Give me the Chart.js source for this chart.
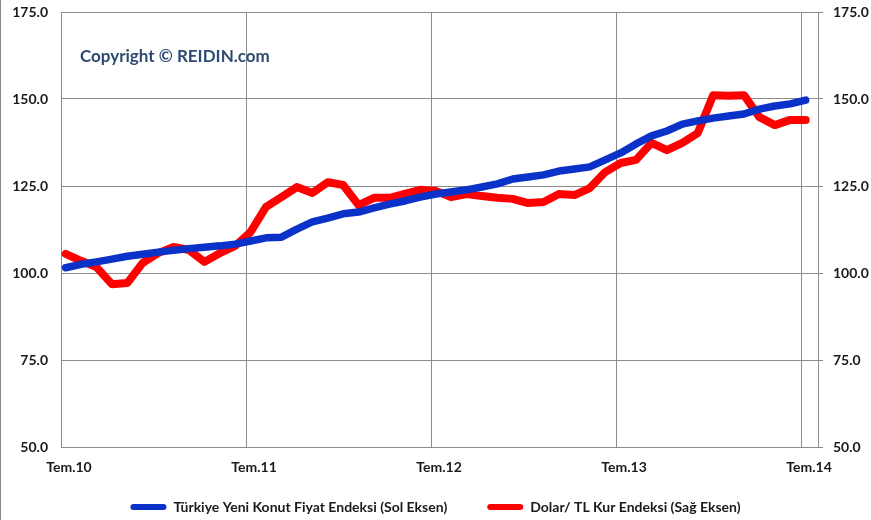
<!DOCTYPE html>
<html lang="tr">

<head>
    <meta charset="UTF-8">
    <title>Konut Fiyat Endeksi / Dolar-TL</title>
    <script src="https://cdn.jsdelivr.net/npm/chart.js"></script>
    <style>
        html, body { margin: 0; padding: 0; background: #ffffff; }
        #kutu { width: 871px; height: 520px; position: relative; }
    </style>
</head>

<body>
    <div id="kutu">
        <canvas id="grafik" width="871" height="520"></canvas>
    </div>
</body>

</html>
<script>
    // aylik seri: Tem.10 .. Tem.14
    var yilEtiketleri = ['Tem.10', 'Tem.11', 'Tem.12', 'Tem.13', 'Tem.14'];
    var eksenDegerleri = [50, 75, 100, 125, 150, 175];
    var ayKaymasi = 0.3; // noktalar ay cizgisinin biraz sagina duser

    var konutEndeksi = [
        101.5, 102.5, 103.2, 104.0, 104.8, 105.4, 106.0, 106.5, 107.0, 107.4, 107.8, 108.3,
        109.2, 110.1, 110.3, 112.6, 114.7, 115.8, 117.0, 117.5, 118.7, 119.8, 120.7, 121.8,
        122.7, 123.3, 123.9, 124.7, 125.6, 127.0, 127.6, 128.2, 129.3, 129.9, 130.5, 132.5,
        134.5, 137.1, 139.4, 140.8, 142.8, 143.7, 144.5, 145.1, 145.7, 147.1, 148.0, 148.6,
        149.7
    ];
    var dolarTlEndeksi = [
        105.5, 103.5, 101.7, 96.8, 97.1, 102.9, 105.7, 107.5, 106.6, 103.2, 105.7, 107.8,
        111.8, 119.0, 121.8, 124.7, 123.0, 126.1, 125.3, 119.5, 121.6, 121.6, 122.7, 123.9,
        123.6, 121.8, 122.7, 122.1, 121.6, 121.3, 120.1, 120.4, 122.7, 122.4, 124.4, 129.0,
        131.6, 132.5, 137.4, 135.3, 137.4, 140.2, 151.1, 150.9, 151.1, 144.8, 142.5, 144.0,
        144.0
    ];

    function noktalar(seri) {
        return seri.map(function (v, i) { return { x: i + ayKaymasi, y: v }; });
    }

    var yaziFontu = 'Lato, "Open Sans", sans-serif';

    // eksen etiketlerinin tasmasi icin eklenen boslugu kaldir
    function boslukSifirla(axis) {
        axis.paddingTop = 0;
        axis.paddingBottom = 0;
        axis.paddingLeft = 0;
        axis.paddingRight = 0;
    }

    // copyright yazisi ve sol kenar cizgisi
    var ekYazi = {
        id: 'ekYazi',
        afterDraw: function (chart) {
            var ctx = chart.ctx;
            ctx.save();
            ctx.font = 'bold 17px ' + yaziFontu;
            ctx.fillStyle = '#2f4a70';
            ctx.textBaseline = 'middle';
            ctx.fillText('Copyright \u00a9 REIDIN.com', 80, 57);
            ctx.strokeStyle = '#8a8a8a';
            ctx.lineWidth = 1;
            ctx.beginPath();
            ctx.moveTo(0.5, 0);
            ctx.lineTo(0.5, 520);
            ctx.stroke();
            ctx.restore();
        }
    };

    var grafik = new Chart(document.getElementById('grafik').getContext('2d'), {
        type: 'line',
        data: {
            datasets: [{
                label: 'Türkiye Yeni Konut Fiyat Endeksi (Sol Eksen)',
                data: noktalar(konutEndeksi),
                yAxisID: 'y',
                borderColor: '#0a32c8',
                backgroundColor: '#0a32c8',
                borderWidth: 7.5,
                borderJoinStyle: 'round',
                borderCapStyle: 'round',
                pointRadius: 0,
                tension: 0
            }, {
                label: 'Dolar/ TL Kur Endeksi (Sağ Eksen)',
                data: noktalar(dolarTlEndeksi),
                yAxisID: 'y1',
                borderColor: '#ff0000',
                backgroundColor: '#ff0000',
                borderWidth: 8,
                borderJoinStyle: 'round',
                borderCapStyle: 'round',
                pointRadius: 0,
                tension: 0
            }]
        },
        options: {
            responsive: false,
            animation: false,
            layout: { padding: { top: 12, left: 0, right: 0, bottom: -4 } },
            plugins: {
                tooltip: { enabled: false },
                legend: {
                    position: 'bottom',
                    labels: {
                        boxWidth: 36,
                        boxHeight: 6,
                        useBorderRadius: true,
                        borderRadius: 3,
                        padding: 5,
                        color: '#1a1a1a',
                        font: { family: yaziFontu, size: 14, weight: 'bold' },
                        generateLabels: function (chart) {
                            var etiketler = Chart.defaults.plugins.legend.labels.generateLabels(chart);
                            etiketler.forEach(function (e, i) {
                                e.lineWidth = 0;
                                // ogeler arasi bosluk
                                if (i == 0) e.text = e.text + '\u2003\u2003\u2002\u2002';
                            });
                            return etiketler;
                        }
                    }
                }
            },
            scales: {
                x: {
                    type: 'linear',
                    min: 0,
                    max: 49.1,
                    afterBuildTicks: function (axis) {
                        axis.ticks = yilEtiketleri.map(function (e, i) { return { value: i * 12 }; });
                    },
                    afterFit: function (axis) { axis.height = 48; boslukSifirla(axis); },
                    grid: { color: '#8c8c8c', drawTicks: false },
                    border: { color: '#8c8c8c' },
                    ticks: {
                        padding: 12,
                        labelOffset: 8,
                        maxRotation: 0,
                        autoSkip: false,
                        color: '#1a1a1a',
                        font: { family: yaziFontu, size: 14, weight: 'bold' },
                        callback: function (v) { return yilEtiketleri[Math.round(v / 12)]; }
                    }
                },
                y: {
                    position: 'left',
                    min: 50,
                    max: 175,
                    afterBuildTicks: function (axis) {
                        axis.ticks = eksenDegerleri.map(function (v) { return { value: v }; });
                    },
                    afterFit: function (axis) { axis.width = 61; boslukSifirla(axis); },
                    grid: { color: '#8c8c8c', drawTicks: false },
                    border: { color: '#8c8c8c' },
                    ticks: {
                        padding: 13,
                        color: '#1a1a1a',
                        font: { family: yaziFontu, size: 14, weight: 'bold' },
                        callback: function (v) { return v.toFixed(1); }
                    }
                },
                y1: {
                    position: 'right',
                    min: 50,
                    max: 175,
                    afterBuildTicks: function (axis) {
                        axis.ticks = eksenDegerleri.map(function (v) { return { value: v }; });
                    },
                    afterFit: function (axis) { axis.width = 53; boslukSifirla(axis); },
                    grid: { drawOnChartArea: false, color: '#8c8c8c', tickLength: 5 },
                    border: { color: '#8c8c8c' },
                    ticks: {
                        padding: 10,
                        color: '#1a1a1a',
                        font: { family: yaziFontu, size: 14, weight: 'bold' },
                        callback: function (v) { return v.toFixed(1); }
                    }
                }
            }
        },
        plugins: [ekYazi]
    });
</script>
